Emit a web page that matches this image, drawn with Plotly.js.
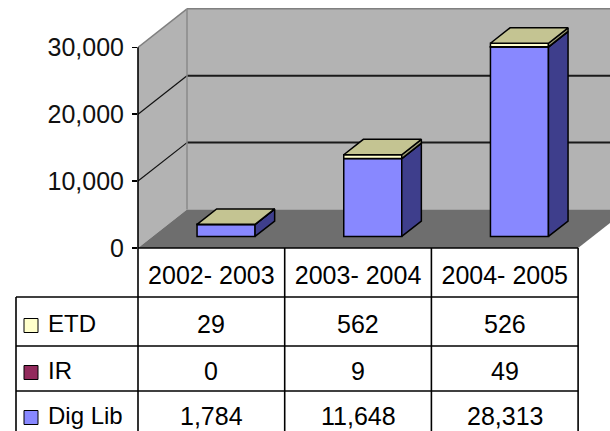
<!DOCTYPE html>
<html><head><meta charset="utf-8">
<script src="https://cdn.plot.ly/plotly-3.0.1.min.js"></script>
<style>html,body{margin:0;padding:0;background:#fff;overflow:hidden}#chart{width:610px;height:431px}</style>
</head><body><div id="chart"></div>
<script>
// ---- data ----
const categories = ['2002- 2003', '2003- 2004', '2004- 2005'];
const seriesNames = ['ETD', 'IR', 'Dig Lib'];
const etd = [29, 562, 526];
const ir = [0, 9, 49];
const digLib = [1784, 11648, 28313];
const yTickVals = [0, 10000, 20000, 30000];

// ---- styles / geometry ----
const colETD = '#ffffcc', colIR = '#922a5c', colDig = '#8888ff';
const sideETD = '#9c9c74', sideIR = '#4a1530', sideDig = '#3e3e8c';
const topCol = '#c4c492';
const W = 610, H = 431, L = 138, T = 6, B = 183;
const plotW = W - L, plotH = H - T - B;
const pxPerCat = 146.7, unitsPerPx = 149.5;
const xMin = -0.5, xMax = xMin + plotW / pxPerCat;
const yMax = plotH * unitsPerPx;
const depthX = 49 / pxPerCat, depthY = 38.5 * unitsPerPx;
const barFront = 0.3, barBack = 0.7;
const barW = 58 / pxPerCat;
const topVal = yTickVals[yTickVals.length - 1];

const pxX = px => (px - L) / plotW;            // pixel -> paper x
const pxY = py => (H - B - py) / plotH;        // pixel -> paper y
const catX = c => (c - xMin) / (xMax - xMin);   // category coord -> paper x

// ---- traces ----
const traces = [];
const stack = [
  {vals: digLib, color: colDig, side: sideDig},
  {vals: ir, color: colIR, side: sideIR},
  {vals: etd, color: colETD, side: sideETD}
];
const xFront = categories.map((_, i) => i + barFront * depthX);
const baseOff = barFront * depthY;
const dd = barBack - barFront;
let cum = categories.map(() => 0);
stack.forEach(s => {
  const base = cum.map(c => c + baseOff);
  traces.push({type: 'bar', x: xFront, y: s.vals, base: base, width: barW,
    marker: {color: s.color, line: {color: '#000', width: 1.5}},
    hoverinfo: 'skip', showlegend: false});
  // side faces
  categories.forEach((_, i) => {
    const xr = xFront[i] + barW / 2;
    const b = base[i], t = base[i] + s.vals[i];
    traces.push({type: 'scatter', mode: 'lines', fill: 'toself', fillcolor: s.side,
      x: [xr, xr + dd * depthX, xr + dd * depthX, xr, xr],
      y: [b, b + dd * depthY, t + dd * depthY, t, b],
      line: {color: '#000', width: 1.5}, hoverinfo: 'skip', showlegend: false});
  });
  cum = cum.map((c, i) => c + s.vals[i]);
});
// top faces
categories.forEach((_, i) => {
  const xl = xFront[i] - barW / 2, xr = xFront[i] + barW / 2;
  const t = cum[i] + baseOff;
  traces.push({type: 'scatter', mode: 'lines', fill: 'toself', fillcolor: topCol,
    x: [xl, xr, xr + dd * depthX, xl + dd * depthX, xl],
    y: [t, t, t + dd * depthY, t + dd * depthY, t],
    line: {color: '#000', width: 1.5}, hoverinfo: 'skip', showlegend: false});
});

// ---- shapes: walls, floor, grid ----
const shapes = [];
const bx = xMin + depthX;
shapes.push({type: 'path', xref: 'x', yref: 'y', layer: 'below',
  path: `M ${xMin},0 L ${xMin},${topVal} L ${bx},${topVal + depthY} L ${bx},${depthY} Z`,
  fillcolor: '#b3b3b3', line: {width: 0}});
shapes.push({type: 'rect', xref: 'x', yref: 'y', layer: 'below',
  x0: bx, x1: xMax + 1, y0: depthY, y1: topVal + depthY,
  fillcolor: '#b3b3b3', line: {width: 0}});
shapes.push({type: 'path', xref: 'x', yref: 'y', layer: 'below',
  path: `M ${xMin},0 L 2.5,0 L ${2.5 + depthX},${depthY} L ${bx},${depthY} Z`,
  fillcolor: '#6e6e6e', line: {width: 0}});
// gridlines
yTickVals.slice(1, -1).forEach(v => {
  shapes.push({type: 'line', xref: 'x', yref: 'y', layer: 'below',
    x0: xMin, y0: v, x1: bx, y1: v + depthY, line: {color: '#111', width: 1.2}});
  shapes.push({type: 'line', xref: 'x', yref: 'y', layer: 'below',
    x0: bx, y0: v + depthY, x1: xMax + 1, y1: v + depthY, line: {color: '#1a1a1a', width: 2}});
});
// wall edges (gray)
shapes.push({type: 'line', xref: 'x', yref: 'y', layer: 'below',
  x0: xMin, y0: topVal, x1: bx, y1: topVal + depthY, line: {color: '#808080', width: 1.5}});
shapes.push({type: 'line', xref: 'x', yref: 'y', layer: 'below',
  x0: bx, y0: topVal + depthY, x1: xMax + 1, y1: topVal + depthY, line: {color: '#808080', width: 1.5}});
shapes.push({type: 'line', xref: 'x', yref: 'y', layer: 'below',
  x0: bx, y0: depthY, x1: bx, y1: topVal + depthY, line: {color: '#8a8a8a', width: 1.5}});
// front value axis line
shapes.push({type: 'line', xref: 'paper', yref: 'y', x0: 0, x1: 0, y0: 0, y1: topVal,
  line: {color: '#000', width: 1.6}});

// ---- data table ----
const lineStyle = {color: '#000', width: 1.6};
const tblTop = 248, hdrBot = 297, rowLines = [346, 391], tblBot = 445, tblLeft = 16;
shapes.push({type: 'line', xref: 'paper', yref: 'paper', x0: catX(-0.5), x1: catX(2.5), y0: pxY(tblTop), y1: pxY(tblTop), line: lineStyle});
[-0.5, 0.5, 1.5, 2.5].forEach(c => shapes.push({type: 'line', xref: 'paper', yref: 'paper',
  x0: catX(c), x1: catX(c), y0: pxY(tblTop), y1: pxY(tblBot), line: lineStyle}));
[hdrBot].concat(rowLines).forEach(py => shapes.push({type: 'line', xref: 'paper', yref: 'paper',
  x0: pxX(tblLeft), x1: catX(2.5), y0: pxY(py), y1: pxY(py), line: lineStyle}));
shapes.push({type: 'line', xref: 'paper', yref: 'paper', x0: pxX(tblLeft), x1: pxX(tblLeft),
  y0: pxY(hdrBot), y1: pxY(tblBot), line: lineStyle});

const annotations = [];
const rowCenters = [321.5, 368.5, 413.5];
const rowData = [etd, ir, digLib];
const rowColors = [colETD, colIR, colDig];
rowData.forEach((vals, r) => {
  const cy = rowCenters[r] + 2;
  vals.forEach((v, c) => annotations.push({xref: 'x', yref: 'paper', x: c, y: pxY(cy),
    text: v.toLocaleString('en-US'), showarrow: false, xanchor: 'center', yanchor: 'middle',
    font: {size: 25, color: '#000'}}));
  annotations.push({xref: 'paper', yref: 'paper', x: pxX(46), y: pxY(cy), text: seriesNames[r],
    showarrow: false, xanchor: 'left', yanchor: 'middle', font: {size: 24, color: '#000'}});
  shapes.push({type: 'rect', xref: 'paper', yref: 'paper', x0: pxX(24), x1: pxX(38),
    y0: pxY(cy - 7 + 2), y1: pxY(cy + 7 + 2), fillcolor: rowColors[r], line: {color: '#000', width: 1}});
});

const layout = {
  width: W, height: H, margin: {l: L, r: 0, t: T, b: B, pad: 0},
  paper_bgcolor: '#fff', plot_bgcolor: 'rgba(0,0,0,0)', showlegend: false, barmode: 'overlay',
  font: {family: 'Liberation Sans, Arial, sans-serif', size: 25, color: '#000'},
  xaxis: {range: [xMin, xMax], tickvals: [0, 1, 2], ticktext: categories, ticks: '',
    showgrid: false, zeroline: false, showline: false, tickfont: {size: 25, color: '#000'},
    ticklabelstandoff: 10},
  yaxis: {range: [0, yMax], tickvals: yTickVals, tickformat: ',', ticks: 'outside', ticklen: 5,
    tickwidth: 1.5, tickcolor: '#000', showgrid: false, zeroline: false, showline: false,
    tickfont: {size: 25, color: '#111'}, ticklabelstandoff: 3},
  shapes: shapes, annotations: annotations
};
Plotly.newPlot('chart', traces, layout, {staticPlot: true, displayModeBar: false});
</script></body></html>
